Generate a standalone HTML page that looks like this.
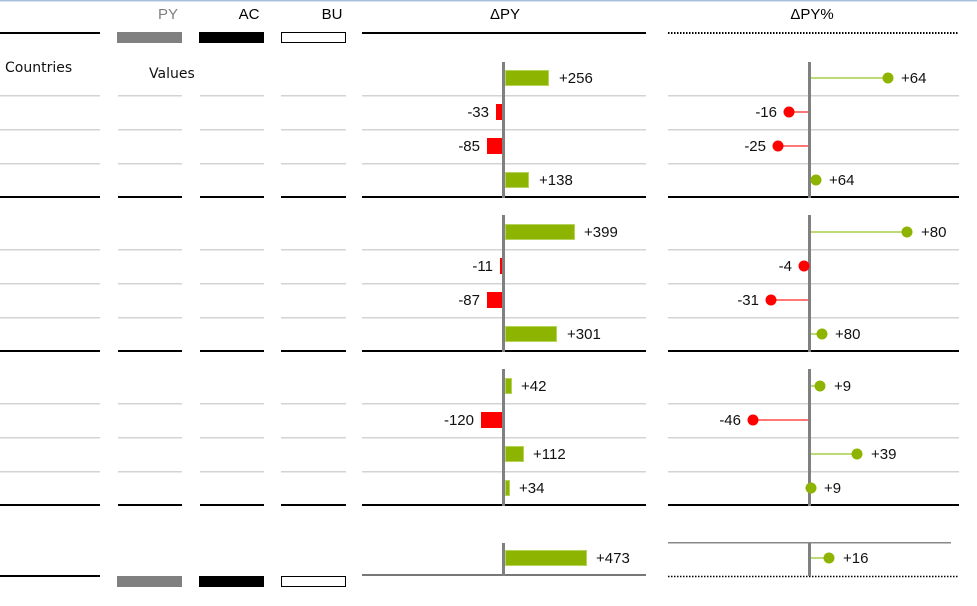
<!DOCTYPE html>
<html><head><meta charset="utf-8"><style>
html,body{margin:0;padding:0;background:#fff;}
svg, svg text{font-family:"Liberation Sans",Arial,Helvetica,sans-serif;}
</style></head><body>
<svg width="977" height="601" viewBox="0 0 977 601" font-family="Liberation Sans, Arial, sans-serif">
<rect x="0" y="0" width="977" height="1.5" fill="#a9c0dc"/>
<g font-size="15" text-anchor="middle">
<text x="168" y="19" fill="#808080">PY</text>
<text x="249" y="19" fill="#000">AC</text>
<text x="332" y="19" fill="#000">BU</text>
<text x="505" y="19" fill="#000">ΔPY</text>
<text x="812" y="19" fill="#000">ΔPY%</text>
</g>
<text x="5" y="72" font-size="14" style="font-family:'DejaVu Sans',sans-serif" fill="#111">Countries</text>
<text x="149" y="78" font-size="14" style="font-family:'DejaVu Sans',sans-serif" fill="#111">Values</text>
<rect x="0" y="32" width="100" height="2" fill="#000"/>
<rect x="117" y="32" width="65" height="11" fill="#808080"/>
<rect x="199" y="32" width="65" height="11" fill="#000"/>
<rect x="281.5" y="32.5" width="64" height="10" fill="#fff" stroke="#000"/>
<rect x="362" y="32" width="284" height="2" fill="#000"/>
<line x1="668" y1="33" x2="959" y2="33" stroke="#000" stroke-width="2" stroke-dasharray="1.5,1.5"/>
<g fill="#d3d3d3">
<rect x="0" y="95" width="100" height="1.5"/><rect x="118" y="95" width="64" height="1.5"/><rect x="200" y="95" width="64" height="1.5"/><rect x="281" y="95" width="65" height="1.5"/><rect x="362" y="95" width="284" height="1.5"/><rect x="668" y="95" width="291" height="1.5"/>
<rect x="0" y="129" width="100" height="1.5"/><rect x="118" y="129" width="64" height="1.5"/><rect x="200" y="129" width="64" height="1.5"/><rect x="281" y="129" width="65" height="1.5"/><rect x="362" y="129" width="284" height="1.5"/><rect x="668" y="129" width="291" height="1.5"/>
<rect x="0" y="163" width="100" height="1.5"/><rect x="118" y="163" width="64" height="1.5"/><rect x="200" y="163" width="64" height="1.5"/><rect x="281" y="163" width="65" height="1.5"/><rect x="362" y="163" width="284" height="1.5"/><rect x="668" y="163" width="291" height="1.5"/>
<rect x="0" y="249" width="100" height="1.5"/><rect x="118" y="249" width="64" height="1.5"/><rect x="200" y="249" width="64" height="1.5"/><rect x="281" y="249" width="65" height="1.5"/><rect x="362" y="249" width="284" height="1.5"/><rect x="668" y="249" width="291" height="1.5"/>
<rect x="0" y="283" width="100" height="1.5"/><rect x="118" y="283" width="64" height="1.5"/><rect x="200" y="283" width="64" height="1.5"/><rect x="281" y="283" width="65" height="1.5"/><rect x="362" y="283" width="284" height="1.5"/><rect x="668" y="283" width="291" height="1.5"/>
<rect x="0" y="317" width="100" height="1.5"/><rect x="118" y="317" width="64" height="1.5"/><rect x="200" y="317" width="64" height="1.5"/><rect x="281" y="317" width="65" height="1.5"/><rect x="362" y="317" width="284" height="1.5"/><rect x="668" y="317" width="291" height="1.5"/>
<rect x="0" y="403" width="100" height="1.5"/><rect x="118" y="403" width="64" height="1.5"/><rect x="200" y="403" width="64" height="1.5"/><rect x="281" y="403" width="65" height="1.5"/><rect x="362" y="403" width="284" height="1.5"/><rect x="668" y="403" width="291" height="1.5"/>
<rect x="0" y="437" width="100" height="1.5"/><rect x="118" y="437" width="64" height="1.5"/><rect x="200" y="437" width="64" height="1.5"/><rect x="281" y="437" width="65" height="1.5"/><rect x="362" y="437" width="284" height="1.5"/><rect x="668" y="437" width="291" height="1.5"/>
<rect x="0" y="471" width="100" height="1.5"/><rect x="118" y="471" width="64" height="1.5"/><rect x="200" y="471" width="64" height="1.5"/><rect x="281" y="471" width="65" height="1.5"/><rect x="362" y="471" width="284" height="1.5"/><rect x="668" y="471" width="291" height="1.5"/>
</g>
<g fill="#000">
<rect x="0" y="196" width="100" height="2"/><rect x="118" y="196" width="64" height="2"/><rect x="200" y="196" width="64" height="2"/><rect x="281" y="196" width="65" height="2"/><rect x="362" y="196" width="284" height="2"/><rect x="668" y="196" width="291" height="2"/>
<rect x="0" y="350" width="100" height="2"/><rect x="118" y="350" width="64" height="2"/><rect x="200" y="350" width="64" height="2"/><rect x="281" y="350" width="65" height="2"/><rect x="362" y="350" width="284" height="2"/><rect x="668" y="350" width="291" height="2"/>
<rect x="0" y="504" width="100" height="2"/><rect x="118" y="504" width="64" height="2"/><rect x="200" y="504" width="64" height="2"/><rect x="281" y="504" width="65" height="2"/><rect x="362" y="504" width="284" height="2"/><rect x="668" y="504" width="291" height="2"/>
</g>
<rect x="0" y="575" width="100" height="2" fill="#000"/>
<rect x="117" y="576" width="65" height="11" fill="#808080"/>
<rect x="199" y="576" width="65" height="11" fill="#000"/>
<rect x="281.5" y="576.5" width="64" height="10" fill="#fff" stroke="#000"/>
<rect x="362" y="574" width="284" height="2" fill="#777"/>
<rect x="668" y="542" width="283" height="1.5" fill="#888"/>
<line x1="668" y1="576.5" x2="959" y2="576.5" stroke="#000" stroke-width="1.5" stroke-dasharray="1.5,1.5"/>
<g fill="#808080">
<rect x="502" y="62" width="3" height="136"/><rect x="502" y="215" width="3" height="137"/><rect x="502" y="369" width="3" height="137"/><rect x="502" y="543" width="3" height="33"/>
<rect x="808" y="62" width="3" height="136"/><rect x="808" y="215" width="3" height="137"/><rect x="808" y="369" width="3" height="137"/><rect x="808" y="543" width="3" height="33"/>
</g>
<g fill="#8db400" stroke="#b5d35a" stroke-width="1">
<rect x="505.5" y="70.5" width="43" height="15"/>
<rect x="505.5" y="172.5" width="23" height="15"/>
<rect x="505.5" y="224.5" width="69" height="15"/>
<rect x="505.5" y="326.5" width="51" height="15"/>
<rect x="505.5" y="378.5" width="6" height="15"/>
<rect x="505.5" y="446.5" width="18" height="15"/>
<rect x="505.5" y="480.5" width="4" height="15"/>
<rect x="505.5" y="550.5" width="81" height="15"/>
</g>
<g fill="#ff0000">
<rect x="496" y="104" width="6" height="16"/>
<rect x="487" y="138" width="15" height="16"/>
<rect x="500" y="258" width="2" height="16"/>
<rect x="487" y="292" width="15" height="16"/>
<rect x="481" y="412" width="21" height="16"/>
</g>
<g font-size="15" fill="#111">
<text x="559" y="83">+256</text>
<text x="539" y="185">+138</text>
<text x="584" y="237">+399</text>
<text x="567" y="339">+301</text>
<text x="521" y="391">+42</text>
<text x="533" y="459">+112</text>
<text x="519" y="493">+34</text>
<text x="596" y="563">+473</text>
<g text-anchor="end">
<text x="489" y="117">-33</text>
<text x="480" y="151">-85</text>
<text x="493" y="271">-11</text>
<text x="480" y="305">-87</text>
<text x="474" y="425">-120</text>
</g>
</g>
<g stroke="#a9cd4a" stroke-width="1.5">
<line x1="811" y1="78" x2="888" y2="78"/><line x1="811" y1="180" x2="816" y2="180"/><line x1="811" y1="232" x2="907" y2="232"/><line x1="811" y1="334" x2="822" y2="334"/><line x1="811" y1="386" x2="820" y2="386"/><line x1="811" y1="454" x2="857" y2="454"/><line x1="811" y1="558" x2="829" y2="558"/>
</g>
<g stroke="#ff4a4a" stroke-width="1.5">
<line x1="789" y1="112" x2="808" y2="112"/><line x1="778" y1="146" x2="808" y2="146"/><line x1="771" y1="300" x2="808" y2="300"/><line x1="753" y1="420" x2="808" y2="420"/>
</g>
<g fill="#8db400">
<circle cx="888" cy="78" r="5.5"/><circle cx="816" cy="180" r="5.5"/><circle cx="907" cy="232" r="5.5"/><circle cx="822" cy="334" r="5.5"/><circle cx="820" cy="386" r="5.5"/><circle cx="857" cy="454" r="5.5"/><circle cx="811" cy="488" r="5.5"/><circle cx="829" cy="558" r="5.5"/>
</g>
<g fill="#ff0000">
<circle cx="789" cy="112" r="5.5"/><circle cx="778" cy="146" r="5.5"/><circle cx="804" cy="266" r="5.5"/><circle cx="771" cy="300" r="5.5"/><circle cx="753" cy="420" r="5.5"/>
</g>
<g font-size="15" fill="#111">
<text x="901" y="83">+64</text>
<text x="829" y="185">+64</text>
<text x="921" y="237">+80</text>
<text x="835" y="339">+80</text>
<text x="834" y="391">+9</text>
<text x="871" y="459">+39</text>
<text x="824" y="493">+9</text>
<text x="843" y="563">+16</text>
<g text-anchor="end">
<text x="777" y="117">-16</text>
<text x="766" y="151">-25</text>
<text x="792" y="271">-4</text>
<text x="759" y="305">-31</text>
<text x="741" y="425">-46</text>
</g>
</g>
</svg>
</body></html>
